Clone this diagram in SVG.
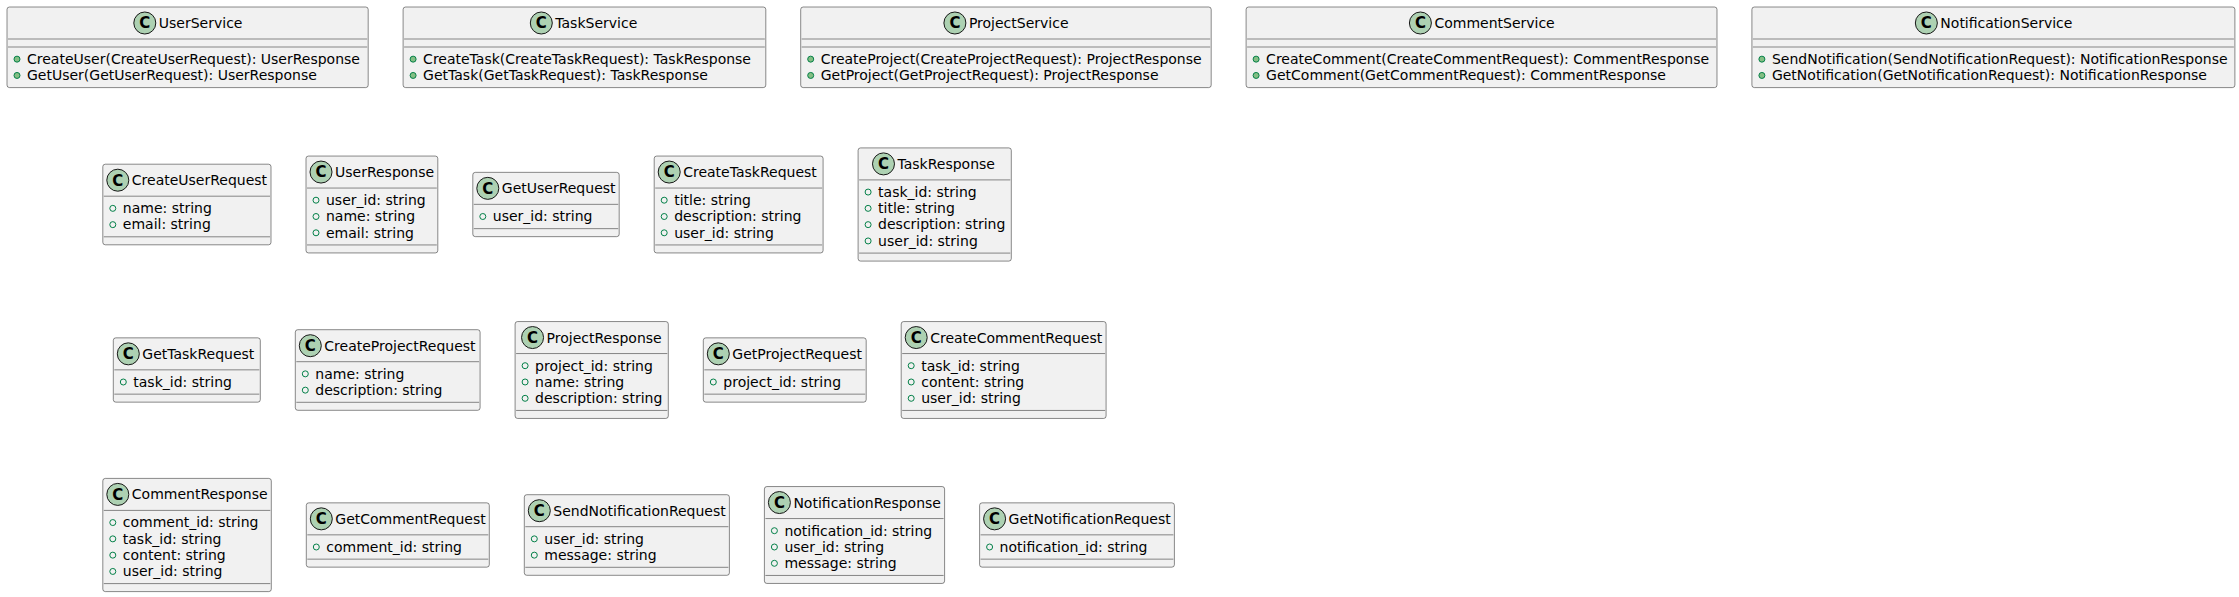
<svg xmlns="http://www.w3.org/2000/svg" width="2239" height="597" viewBox="0 0 2239 597">
<style>
.box{fill:#F1F1F1;stroke:#181818;stroke-width:0.5}
.sep{stroke:#181818;stroke-width:0.5}
.ci{fill:#ADD1B2;stroke:#181818;stroke-width:1}
.cl{font-family:"DejaVu Sans",sans-serif;font-size:15px;font-weight:bold;text-anchor:middle;fill:#000}
.tx{font-family:"DejaVu Sans",sans-serif;font-size:14px;fill:#000}
.fb{fill:none;stroke:#038048;stroke-width:1}
.mb{fill:#84BE84;stroke:#038048;stroke-width:1}
</style>
<rect width="2239" height="597" fill="#FFFFFF"/>
<g id="connectors"></g>

<!-- Row 1 -->
<g id="UserService" transform="translate(7,7)">
<rect class="box" x="0" y="0" width="361.2" height="80.6" rx="2.5"/>
<circle class="ci" cx="137.8" cy="16" r="11"/><text class="cl" x="137.8" y="21.4">C</text>
<text class="tx" x="151.8" y="21">UserService</text>
<line class="sep" x1="1" y1="32" x2="360.2" y2="32"/><line class="sep" x1="1" y1="40" x2="360.2" y2="40"/>
<circle class="mb" cx="10" cy="52.15" r="3"/><text class="tx" x="20" y="57">CreateUser(CreateUserRequest): UserResponse</text>
<circle class="mb" cx="10" cy="68.45" r="3"/><text class="tx" x="20" y="73.3">GetUser(GetUserRequest): UserResponse</text>
</g>
<g id="TaskService" transform="translate(403.1,7)">
<rect class="box" x="0" y="0" width="362.7" height="80.6" rx="2.5"/>
<circle class="ci" cx="138.2" cy="16" r="11"/><text class="cl" x="138.2" y="21.4">C</text>
<text class="tx" x="152.2" y="21">TaskService</text>
<line class="sep" x1="1" y1="32" x2="361.7" y2="32"/><line class="sep" x1="1" y1="40" x2="361.7" y2="40"/>
<circle class="mb" cx="10" cy="52.15" r="3"/><text class="tx" x="20" y="57">CreateTask(CreateTaskRequest): TaskResponse</text>
<circle class="mb" cx="10" cy="68.45" r="3"/><text class="tx" x="20" y="73.3">GetTask(GetTaskRequest): TaskResponse</text>
</g>
<g id="ProjectService" transform="translate(800.7,7)">
<rect class="box" x="0" y="0" width="410.5" height="80.6" rx="2.5"/>
<circle class="ci" cx="154.2" cy="16" r="11"/><text class="cl" x="154.2" y="21.4">C</text>
<text class="tx" x="168.2" y="21">ProjectService</text>
<line class="sep" x1="1" y1="32" x2="409.5" y2="32"/><line class="sep" x1="1" y1="40" x2="409.5" y2="40"/>
<circle class="mb" cx="10" cy="52.15" r="3"/><text class="tx" x="20" y="57">CreateProject(CreateProjectRequest): ProjectResponse</text>
<circle class="mb" cx="10" cy="68.45" r="3"/><text class="tx" x="20" y="73.3">GetProject(GetProjectRequest): ProjectResponse</text>
</g>
<g id="CommentService" transform="translate(1246.1,7)">
<rect class="box" x="0" y="0" width="470.9" height="80.6" rx="2.5"/>
<circle class="ci" cx="174.3" cy="16" r="11"/><text class="cl" x="174.3" y="21.4">C</text>
<text class="tx" x="188.3" y="21">CommentService</text>
<line class="sep" x1="1" y1="32" x2="469.9" y2="32"/><line class="sep" x1="1" y1="40" x2="469.9" y2="40"/>
<circle class="mb" cx="10" cy="52.15" r="3"/><text class="tx" x="20" y="57">CreateComment(CreateCommentRequest): CommentResponse</text>
<circle class="mb" cx="10" cy="68.45" r="3"/><text class="tx" x="20" y="73.3">GetComment(GetCommentRequest): CommentResponse</text>
</g>
<g id="NotificationService" transform="translate(1751.9,7)">
<rect class="box" x="0" y="0" width="483" height="80.6" rx="2.5"/>
<circle class="ci" cx="174.45" cy="16" r="11"/><text class="cl" x="174.45" y="21.4">C</text>
<text class="tx" x="188.45" y="21">NotificationService</text>
<line class="sep" x1="1" y1="32" x2="482" y2="32"/><line class="sep" x1="1" y1="40" x2="482" y2="40"/>
<circle class="mb" cx="10" cy="52.15" r="3"/><text class="tx" x="20" y="57">SendNotification(SendNotificationRequest): NotificationResponse</text>
<circle class="mb" cx="10" cy="68.45" r="3"/><text class="tx" x="20" y="73.3">GetNotification(GetNotificationRequest): NotificationResponse</text>
</g>

<!-- Row 2 -->
<g id="CreateUserRequest" transform="translate(102.8,164.2)">
<rect class="box" x="0" y="0" width="168.2" height="80.6" rx="2.5"/>
<circle class="ci" cx="15" cy="16" r="11"/><text class="cl" x="15" y="21.4">C</text>
<text class="tx" x="29" y="21">CreateUserRequest</text>
<line class="sep" x1="1" y1="32" x2="167.2" y2="32"/>
<circle class="fb" cx="10" cy="44.15" r="3"/><text class="tx" x="20" y="49">name: string</text>
<circle class="fb" cx="10" cy="60.45" r="3"/><text class="tx" x="20" y="65.3">email: string</text>
<line class="sep" x1="1" y1="72.6" x2="167.2" y2="72.6"/>
</g>
<g id="UserResponse" transform="translate(306,156.05)">
<rect class="box" x="0" y="0" width="131.8" height="96.9" rx="2.5"/>
<circle class="ci" cx="15" cy="16" r="11"/><text class="cl" x="15" y="21.4">C</text>
<text class="tx" x="29" y="21">UserResponse</text>
<line class="sep" x1="1" y1="32" x2="130.8" y2="32"/>
<circle class="fb" cx="10" cy="44.15" r="3"/><text class="tx" x="20" y="49">user_id: string</text>
<circle class="fb" cx="10" cy="60.45" r="3"/><text class="tx" x="20" y="65.3">name: string</text>
<circle class="fb" cx="10" cy="76.75" r="3"/><text class="tx" x="20" y="81.6">email: string</text>
<line class="sep" x1="1" y1="88.9" x2="130.8" y2="88.9"/>
</g>
<g id="GetUserRequest" transform="translate(472.8,172.35)">
<rect class="box" x="0" y="0" width="146.4" height="64.3" rx="2.5"/>
<circle class="ci" cx="15" cy="16" r="11"/><text class="cl" x="15" y="21.4">C</text>
<text class="tx" x="29" y="21">GetUserRequest</text>
<line class="sep" x1="1" y1="32" x2="145.4" y2="32"/>
<circle class="fb" cx="10" cy="44.15" r="3"/><text class="tx" x="20" y="49">user_id: string</text>
<line class="sep" x1="1" y1="56.3" x2="145.4" y2="56.3"/>
</g>
<g id="CreateTaskRequest" transform="translate(654.2,156.05)">
<rect class="box" x="0" y="0" width="168.9" height="96.9" rx="2.5"/>
<circle class="ci" cx="15" cy="16" r="11"/><text class="cl" x="15" y="21.4">C</text>
<text class="tx" x="29" y="21">CreateTaskRequest</text>
<line class="sep" x1="1" y1="32" x2="167.9" y2="32"/>
<circle class="fb" cx="10" cy="44.15" r="3"/><text class="tx" x="20" y="49">title: string</text>
<circle class="fb" cx="10" cy="60.45" r="3"/><text class="tx" x="20" y="65.3">description: string</text>
<circle class="fb" cx="10" cy="76.75" r="3"/><text class="tx" x="20" y="81.6">user_id: string</text>
<line class="sep" x1="1" y1="88.9" x2="167.9" y2="88.9"/>
</g>
<g id="TaskResponse" transform="translate(858.1,147.9)">
<rect class="box" x="0" y="0" width="153.2" height="113.2" rx="2.5"/>
<circle class="ci" cx="25.4" cy="16" r="11"/><text class="cl" x="25.4" y="21.4">C</text>
<text class="tx" x="39.4" y="21">TaskResponse</text>
<line class="sep" x1="1" y1="32" x2="152.2" y2="32"/>
<circle class="fb" cx="10" cy="44.15" r="3"/><text class="tx" x="20" y="49">task_id: string</text>
<circle class="fb" cx="10" cy="60.45" r="3"/><text class="tx" x="20" y="65.3">title: string</text>
<circle class="fb" cx="10" cy="76.75" r="3"/><text class="tx" x="20" y="81.6">description: string</text>
<circle class="fb" cx="10" cy="93.05" r="3"/><text class="tx" x="20" y="97.9">user_id: string</text>
<line class="sep" x1="1" y1="105.2" x2="152.2" y2="105.2"/>
</g>

<!-- Row 3 -->
<g id="GetTaskRequest" transform="translate(113.3,337.85)">
<rect class="box" x="0" y="0" width="147" height="64.3" rx="2.5"/>
<circle class="ci" cx="15" cy="16" r="11"/><text class="cl" x="15" y="21.4">C</text>
<text class="tx" x="29" y="21">GetTaskRequest</text>
<line class="sep" x1="1" y1="32" x2="146" y2="32"/>
<circle class="fb" cx="10" cy="44.15" r="3"/><text class="tx" x="20" y="49">task_id: string</text>
<line class="sep" x1="1" y1="56.3" x2="146" y2="56.3"/>
</g>
<g id="CreateProjectRequest" transform="translate(295.3,329.7)">
<rect class="box" x="0" y="0" width="184.8" height="80.6" rx="2.5"/>
<circle class="ci" cx="15" cy="16" r="11"/><text class="cl" x="15" y="21.4">C</text>
<text class="tx" x="29" y="21">CreateProjectRequest</text>
<line class="sep" x1="1" y1="32" x2="183.8" y2="32"/>
<circle class="fb" cx="10" cy="44.15" r="3"/><text class="tx" x="20" y="49">name: string</text>
<circle class="fb" cx="10" cy="60.45" r="3"/><text class="tx" x="20" y="65.3">description: string</text>
<line class="sep" x1="1" y1="72.6" x2="183.8" y2="72.6"/>
</g>
<g id="ProjectResponse" transform="translate(515.1,321.55)">
<rect class="box" x="0" y="0" width="153.2" height="96.9" rx="2.5"/>
<circle class="ci" cx="17.45" cy="16" r="11"/><text class="cl" x="17.45" y="21.4">C</text>
<text class="tx" x="31.45" y="21">ProjectResponse</text>
<line class="sep" x1="1" y1="32" x2="152.2" y2="32"/>
<circle class="fb" cx="10" cy="44.15" r="3"/><text class="tx" x="20" y="49">project_id: string</text>
<circle class="fb" cx="10" cy="60.45" r="3"/><text class="tx" x="20" y="65.3">name: string</text>
<circle class="fb" cx="10" cy="76.75" r="3"/><text class="tx" x="20" y="81.6">description: string</text>
<line class="sep" x1="1" y1="88.9" x2="152.2" y2="88.9"/>
</g>
<g id="GetProjectRequest" transform="translate(703.3,337.85)">
<rect class="box" x="0" y="0" width="162.9" height="64.3" rx="2.5"/>
<circle class="ci" cx="15" cy="16" r="11"/><text class="cl" x="15" y="21.4">C</text>
<text class="tx" x="29" y="21">GetProjectRequest</text>
<line class="sep" x1="1" y1="32" x2="161.9" y2="32"/>
<circle class="fb" cx="10" cy="44.15" r="3"/><text class="tx" x="20" y="49">project_id: string</text>
<line class="sep" x1="1" y1="56.3" x2="161.9" y2="56.3"/>
</g>
<g id="CreateCommentRequest" transform="translate(901.2,321.55)">
<rect class="box" x="0" y="0" width="204.9" height="96.9" rx="2.5"/>
<circle class="ci" cx="15" cy="16" r="11"/><text class="cl" x="15" y="21.4">C</text>
<text class="tx" x="29" y="21">CreateCommentRequest</text>
<line class="sep" x1="1" y1="32" x2="203.9" y2="32"/>
<circle class="fb" cx="10" cy="44.15" r="3"/><text class="tx" x="20" y="49">task_id: string</text>
<circle class="fb" cx="10" cy="60.45" r="3"/><text class="tx" x="20" y="65.3">content: string</text>
<circle class="fb" cx="10" cy="76.75" r="3"/><text class="tx" x="20" y="81.6">user_id: string</text>
<line class="sep" x1="1" y1="88.9" x2="203.9" y2="88.9"/>
</g>

<!-- Row 4 -->
<g id="CommentResponse" transform="translate(102.8,478.4)">
<rect class="box" x="0" y="0" width="168.5" height="113.2" rx="2.5"/>
<circle class="ci" cx="15" cy="16" r="11"/><text class="cl" x="15" y="21.4">C</text>
<text class="tx" x="29" y="21">CommentResponse</text>
<line class="sep" x1="1" y1="32" x2="167.5" y2="32"/>
<circle class="fb" cx="10" cy="44.15" r="3"/><text class="tx" x="20" y="49">comment_id: string</text>
<circle class="fb" cx="10" cy="60.45" r="3"/><text class="tx" x="20" y="65.3">task_id: string</text>
<circle class="fb" cx="10" cy="76.75" r="3"/><text class="tx" x="20" y="81.6">content: string</text>
<circle class="fb" cx="10" cy="93.05" r="3"/><text class="tx" x="20" y="97.9">user_id: string</text>
<line class="sep" x1="1" y1="105.2" x2="167.5" y2="105.2"/>
</g>
<g id="GetCommentRequest" transform="translate(306.3,502.85)">
<rect class="box" x="0" y="0" width="183" height="64.3" rx="2.5"/>
<circle class="ci" cx="15" cy="16" r="11"/><text class="cl" x="15" y="21.4">C</text>
<text class="tx" x="29" y="21">GetCommentRequest</text>
<line class="sep" x1="1" y1="32" x2="182" y2="32"/>
<circle class="fb" cx="10" cy="44.15" r="3"/><text class="tx" x="20" y="49">comment_id: string</text>
<line class="sep" x1="1" y1="56.3" x2="182" y2="56.3"/>
</g>
<g id="SendNotificationRequest" transform="translate(524.3,494.7)">
<rect class="box" x="0" y="0" width="205.1" height="80.6" rx="2.5"/>
<circle class="ci" cx="15" cy="16" r="11"/><text class="cl" x="15" y="21.4">C</text>
<text class="tx" x="29" y="21">SendNotificationRequest</text>
<line class="sep" x1="1" y1="32" x2="204.1" y2="32"/>
<circle class="fb" cx="10" cy="44.15" r="3"/><text class="tx" x="20" y="49">user_id: string</text>
<circle class="fb" cx="10" cy="60.45" r="3"/><text class="tx" x="20" y="65.3">message: string</text>
<line class="sep" x1="1" y1="72.6" x2="204.1" y2="72.6"/>
</g>
<g id="NotificationResponse" transform="translate(764.4,486.55)">
<rect class="box" x="0" y="0" width="180.2" height="96.9" rx="2.5"/>
<circle class="ci" cx="15" cy="16" r="11"/><text class="cl" x="15" y="21.4">C</text>
<text class="tx" x="29" y="21">NotificationResponse</text>
<line class="sep" x1="1" y1="32" x2="179.2" y2="32"/>
<circle class="fb" cx="10" cy="44.15" r="3"/><text class="tx" x="20" y="49">notification_id: string</text>
<circle class="fb" cx="10" cy="60.45" r="3"/><text class="tx" x="20" y="65.3">user_id: string</text>
<circle class="fb" cx="10" cy="76.75" r="3"/><text class="tx" x="20" y="81.6">message: string</text>
<line class="sep" x1="1" y1="88.9" x2="179.2" y2="88.9"/>
</g>
<g id="GetNotificationRequest" transform="translate(979.6,502.85)">
<rect class="box" x="0" y="0" width="194.8" height="64.3" rx="2.5"/>
<circle class="ci" cx="15" cy="16" r="11"/><text class="cl" x="15" y="21.4">C</text>
<text class="tx" x="29" y="21">GetNotificationRequest</text>
<line class="sep" x1="1" y1="32" x2="193.8" y2="32"/>
<circle class="fb" cx="10" cy="44.15" r="3"/><text class="tx" x="20" y="49">notification_id: string</text>
<line class="sep" x1="1" y1="56.3" x2="193.8" y2="56.3"/>
</g>
</svg>
